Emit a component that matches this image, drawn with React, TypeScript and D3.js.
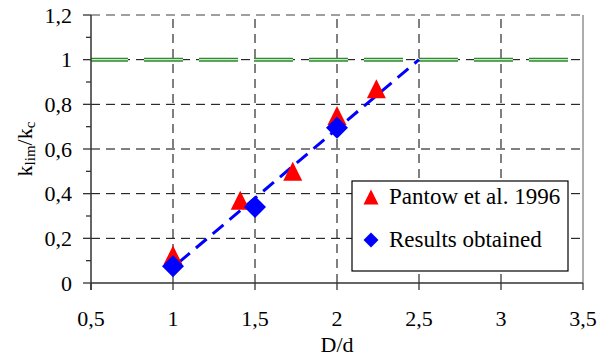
import React from "react";
import * as d3 from "d3";

const xTicks = [0.5, 1, 1.5, 2, 2.5, 3, 3.5];
const yTicks = [0, 0.2, 0.4, 0.6, 0.8, 1, 1.2];
const yMinor = [0.1, 0.3, 0.5, 0.7, 0.9, 1.1];

const pantowX = [1, 1.41, 1.73, 2, 2.24];
const pantowY = [0.125, 0.37, 0.5, 0.75, 0.87];

const resultsX = [1, 1.5, 2];
const resultsY = [0.075, 0.34, 0.695];

const fitX = [1, 2.5];
const fitY = [0.07, 1.0];

const limitX = [0.5, 3.5];
const limitY = [1, 1];

const legendLabels = ["Pantow et al. 1996", "Results obtained"];

const W = 613;
const H = 361;

const triPath = (w: number, h: number) =>
  `M0,${-h / 2}L${w / 2},${h / 2}L${-w / 2},${h / 2}Z`;
const diaPath = (w: number, h: number) =>
  `M0,${-h / 2}L${w / 2},0L0,${h / 2}L${-w / 2},0Z`;

export default function App() {
  const x = d3.scaleLinear().domain([0.5, 3.5]).range([91, 583]);
  const y = d3.scaleLinear().domain([0, 1.2]).range([283, 15]);
  const fmt = (v: number) => String(v).replace(".", ",");
  const line = d3
    .line<[number, number]>()
    .x((d) => x(d[0]))
    .y((d) => y(d[1]));

  const x0 = x(0.5);
  const x1 = x(3.5);
  const y0 = y(0);
  const y1 = y(1.2);
  const limitPath = line(limitX.map((v, i) => [v, limitY[i]]) as [number, number][]) || "";
  const fitPath = line(fitX.map((v, i) => [v, fitY[i]]) as [number, number][]) || "";

  return (
    <svg width={W} height={H} style={{ position: "absolute", left: 0, top: 0 }}>
      <rect x={0} y={0} width={W} height={H} fill="#fff" />
      {xTicks.slice(1, -1).map((t) => (
        <line key={"gx" + t} x1={x(t)} x2={x(t)} y1={y0} y2={y1} stroke="#000" strokeWidth={1} strokeDasharray="9,6" />
      ))}
      {yTicks.slice(1, -1).map((t) => (
        <line key={"gy" + t} x1={x0} x2={x1} y1={y(t)} y2={y(t)} stroke="#000" strokeWidth={1} strokeDasharray="9,6" />
      ))}
      <line x1={x0} x2={x1} y1={y1} y2={y1} stroke="#808080" strokeWidth={1.3} strokeDasharray="9,6" />
      <line x1={x1} x2={x1} y1={y1} y2={y0} stroke="#808080" strokeWidth={1.3} />

      <path d={limitPath} stroke="#2e8b2e" strokeWidth={4} fill="none" strokeDasharray="39,16" strokeDashoffset={2} />
      <path d={limitPath} stroke="#c8e6c8" strokeWidth={1.1} fill="none" strokeDasharray="39,16" strokeDashoffset={2} />

      <line x1={x0} x2={x0} y1={y1} y2={y0 + 7} stroke="#333" strokeWidth={1.5} />
      <line x1={x0} x2={x1} y1={y0} y2={y0} stroke="#333" strokeWidth={1.5} />
      {yTicks.map((t) => (
        <line key={"ty" + t} x1={x0 - 8} x2={x0} y1={y(t)} y2={y(t)} stroke="#333" strokeWidth={1.3} />
      ))}
      {yMinor.map((t) => (
        <line key={"tm" + t} x1={x0 - 5} x2={x0} y1={y(t)} y2={y(t)} stroke="#333" strokeWidth={1.3} />
      ))}
      {xTicks.map((t) => (
        <line key={"tx" + t} x1={x(t)} x2={x(t)} y1={y0} y2={y0 + 7} stroke="#333" strokeWidth={1.3} />
      ))}

      {yTicks.map((t) => (
        <text key={"ly" + t} x={72} y={y(t)} dy="0.35em" textAnchor="end" fontSize={22} style={{ fontFamily: "serif" }}>
          {fmt(t)}
        </text>
      ))}
      {xTicks.map((t) => (
        <text key={"lx" + t} x={x(t)} y={326} textAnchor="middle" fontSize={22} style={{ fontFamily: "serif" }}>
          {fmt(t)}
        </text>
      ))}

      <text x={(x0 + x1) / 2} y={352} textAnchor="middle" fontSize={22} style={{ fontFamily: "serif" }}>
        D/d
      </text>
      <text
        transform={`translate(32,${(y0 + y1) / 2}) rotate(-90)`}
        textAnchor="middle"
        fontSize={22}
        style={{ fontFamily: "serif" }}
      >
        k
        <tspan fontSize={15} dy={3}>lim</tspan>
        <tspan dy={-3}>/k</tspan>
        <tspan fontSize={15} dy={3}>c</tspan>
      </text>

      <path d={fitPath} stroke="#0000ff" strokeWidth={3} fill="none" strokeDasharray="14,8" strokeDashoffset={-8} />

      {pantowX.map((v, i) => (
        <path key={"p" + i} d={triPath(19, 19)} transform={`translate(${x(v)},${y(pantowY[i])})`} fill="#ff0000" />
      ))}
      {resultsX.map((v, i) => (
        <path key={"r" + i} d={diaPath(22, 22)} transform={`translate(${x(v)},${y(resultsY[i])})`} fill="#0000ff" />
      ))}

      <rect x={352} y={181} width={216} height={90} fill="#fff" stroke="#000" strokeWidth={1.2} />
      <path d={triPath(15, 15)} transform="translate(371,197)" fill="#ff0000" />
      <path d={diaPath(15, 15)} transform="translate(371,240)" fill="#0000ff" />
      <text x={389} y={204} fontSize={23} style={{ fontFamily: "Times New Roman" }}>
        {legendLabels[0]}
      </text>
      <text x={389} y={247} fontSize={23} style={{ fontFamily: "Times New Roman" }}>
        {legendLabels[1]}
      </text>
    </svg>
  );
}
